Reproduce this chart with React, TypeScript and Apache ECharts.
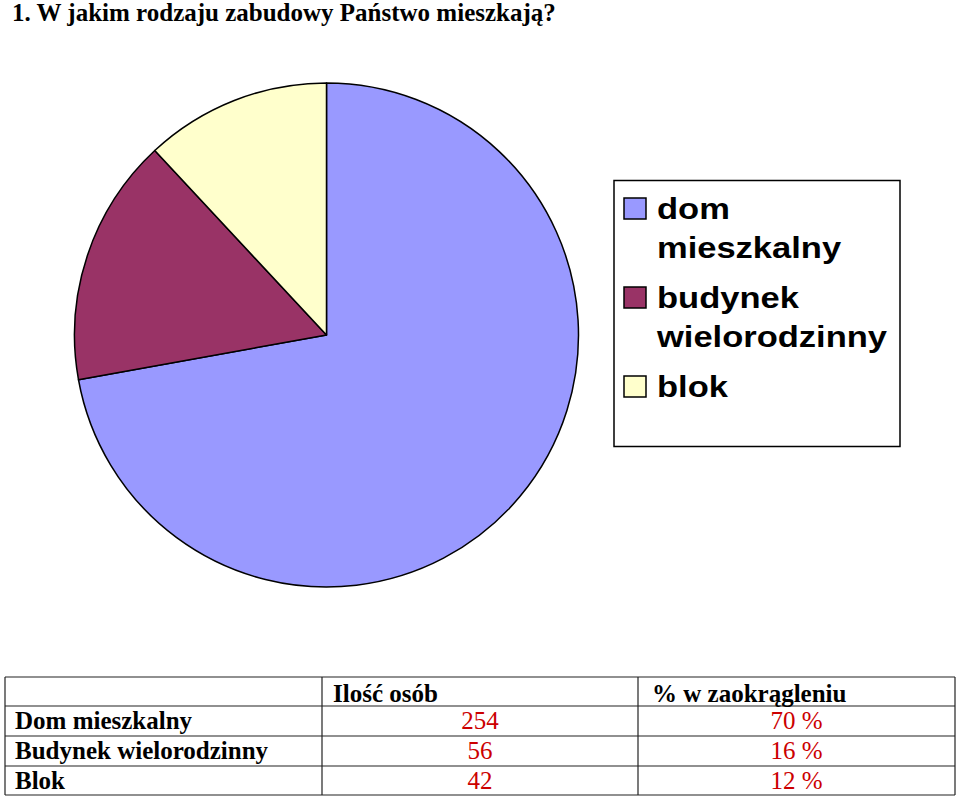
import React, { useEffect, useRef } from "react";
import * as echarts from "echarts";

const titleText = "1. W jakim rodzaju zabudowy Państwo mieszkają?";
const categories = ["Dom mieszkalny", "Budynek wielorodzinny", "Blok"];
const legendLabels = [["dom", "mieszkalny"], ["budynek", "wielorodzinny"], ["blok"]];
const counts = [254, 56, 42];
const percents = [70, 16, 12];
const colors = ["#9999FF", "#993366", "#FFFFCC"];
const headers = ["Ilość osób", "% w zaokrągleniu"];

const SERIF = "'Liberation Serif', serif";
const SANS = "'Liberation Sans', Arial, sans-serif";

export default function App() {
  const ref = useRef<HTMLDivElement>(null);

  useEffect(() => {
    document.body.style.margin = "0";
    if (!ref.current) return;
    const chart = echarts.init(ref.current, undefined, { renderer: "svg" });

    const graphics: any[] = [];

    // title
    graphics.push({
      type: "text",
      x: 12,
      y: 12.5,
      style: {
        text: titleText,
        font: `bold 25px ${SERIF}`,
        fill: "#000",
        textAlign: "left",
        textVerticalAlign: "middle",
      },
    });

    // legend box
    graphics.push({
      type: "rect",
      shape: { x: 614, y: 180.5, width: 286, height: 266 },
      style: { fill: "#fff", stroke: "#000", lineWidth: 1.5 },
    });
    const baselines = [219, 308, 397];
    const lineH = 39;
    legendLabels.forEach((lines, i) => {
      const b = baselines[i];
      graphics.push({
        type: "rect",
        shape: { x: 624, y: b - 21, width: 22, height: 21 },
        style: { fill: colors[i], stroke: "#000", lineWidth: 1.5 },
      });
      lines.forEach((ln, j) => {
        graphics.push({
          type: "text",
          x: 657,
          y: b + j * lineH - 10,
          scaleX: 1.19,
          style: {
            text: ln,
            font: `bold 29px ${SANS}`,
            fill: "#000",
            textAlign: "left",
            textVerticalAlign: "middle",
          },
        });
      });
    });

    // table
    const rowsY = [677, 706, 736, 766, 795];
    const colsX = [5, 322, 638, 955];
    rowsY.forEach((y) => {
      graphics.push({
        type: "line",
        shape: { x1: colsX[0], y1: y, x2: colsX[3], y2: y },
        style: { stroke: "#222", lineWidth: 1.2 },
      });
    });
    colsX.forEach((x) => {
      graphics.push({
        type: "line",
        shape: { x1: x, y1: rowsY[0], x2: x, y2: rowsY[4] },
        style: { stroke: "#222", lineWidth: 1.2 },
      });
    });
    headers.forEach((h, i) => {
      graphics.push({
        type: "text",
        x: colsX[i + 1] + (i === 0 ? 11 : 14),
        y: rowsY[0] + 24 - 8,
        style: {
          text: h,
          font: `bold 25px ${SERIF}`,
          fill: "#000",
          textAlign: "left",
          textVerticalAlign: "middle",
        },
      });
    });
    categories.forEach((c, i) => {
      const yc = rowsY[i + 1] + 22 - 8;
      graphics.push({
        type: "text",
        x: 15,
        y: yc,
        style: {
          text: c,
          font: `bold 25px ${SERIF}`,
          fill: "#000",
          textAlign: "left",
          textVerticalAlign: "middle",
        },
      });
      graphics.push({
        type: "text",
        x: (colsX[1] + colsX[2]) / 2,
        y: yc,
        style: {
          text: String(counts[i]),
          font: `25px ${SERIF}`,
          fill: "#cc0000",
          textAlign: "center",
          textVerticalAlign: "middle",
        },
      });
      graphics.push({
        type: "text",
        x: (colsX[2] + colsX[3]) / 2,
        y: yc,
        style: {
          text: `${percents[i]} %`,
          font: `25px ${SERIF}`,
          fill: "#cc0000",
          textAlign: "center",
          textVerticalAlign: "middle",
        },
      });
    });

    chart.setOption({
      animation: false,
      backgroundColor: "#fff",
      series: [
        {
          type: "pie",
          center: [326.5, 335],
          radius: 252,
          startAngle: 90,
          clockwise: true,
          label: { show: false },
          labelLine: { show: false },
          emphasis: { disabled: true },
          itemStyle: { borderColor: "#000", borderWidth: 1.5 },
          data: categories.map((c, i) => ({
            name: c,
            value: counts[i],
            itemStyle: { color: colors[i] },
          })),
        },
      ],
      graphic: graphics,
    });

    return () => chart.dispose();
  }, []);

  return <div ref={ref} style={{ width: 960, height: 797 }} />;
}
